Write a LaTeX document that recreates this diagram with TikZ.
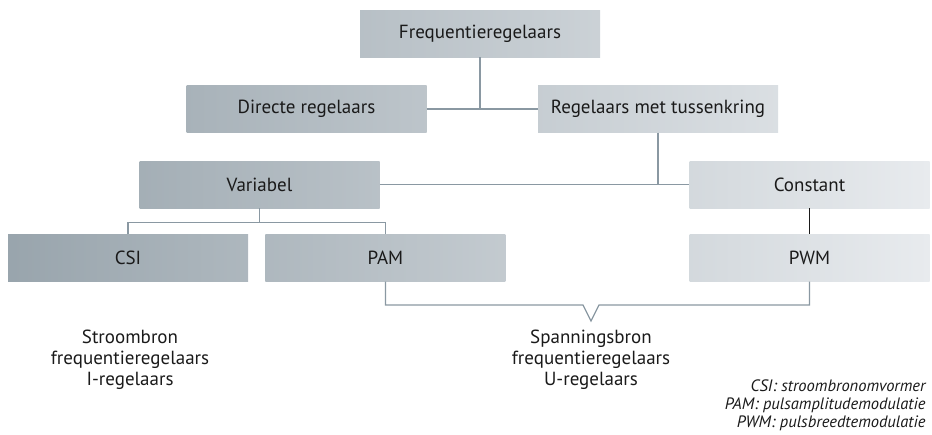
\documentclass[tikz,border=0pt]{standalone}
\usepackage{fontspec}
\setmainfont{PT Sans}
\usepackage{tikz}
\usetikzlibrary{calc,positioning}
\definecolor{fcdark}{RGB}{152,164,172}
\definecolor{fclight}{RGB}{232,235,238}
\definecolor{fcline}{RGB}{138,152,162}
\definecolor{fctext}{RGB}{26,26,26}

\begin{document}
\begin{tikzpicture}[x=1pt,y=-1pt,font=\fontsize{19}{21}\selectfont,text=fctext,
    every node/.style={align=center},
    fcbox/.style 2 args={minimum width=240pt,minimum height=47pt,inner sep=0pt,
      left color=fclight!#1!fcdark,right color=fclight!#2!fcdark},
    conn/.style={draw=fcline,line width=1.3pt}]
        \useasboundingbox (0,0) rectangle (932,434);
        \node[fcbox={39}{64}] (freq) at (480,33.5) {Frequentieregelaars};
        \node[fcbox={20}{46}] (dir) at (306.5,109) {Directe regelaars};
        \node[fcbox={58}{83}] (reg) at (658,109) {Regelaars met tussenkring};
        \node[fcbox={15}{41}] (var) at (259.5,184.5) {Variabel};
        \node[fcbox={74}{100}] (const) at (809.5,184.5) {Constant};
        \node[fcbox={1}{27}] (csi) at (128,258) {CSI};
        \node[fcbox={28}{54},right=17pt of csi] (pam) {PAM};
        \node[fcbox={74}{100},below=26pt of const] (pwm) {PWM};
        \draw[conn] (dir.east)--(reg.west);
        \draw[conn] (freq.south)--(freq.south |- dir.east);
        \draw[conn] (var.east)--(const.west);
        \draw[conn] (reg.south)--(reg.south |- var.east);
        \coordinate (varfork) at ($(var.south)+(0,14)$);
        \draw[conn] (var.south)--(varfork);
        \draw[conn] (csi.north) |- (varfork) -| (pam.north);
        \draw[line width=1.3pt,fctext] (const.south)--(pwm.north);
        % bracket with notch pointing down
        \coordinate (notch) at (591,321);
        \draw[conn,line join=miter] (pam.south) |- ($(notch)+(-8,-16)$) -- (notch)
          -- ($(notch)+(8,-16)$) -| (pwm.south);
        \node (isrc) at (130,360) {Stroombron\\frequentieregelaars\\I-regelaars};
        \node (usrc) at (notch |- isrc) {Spanningsbron\\frequentieregelaars\\U-regelaars};
        \node[anchor=south east,align=right,font=\fontsize{16.5}{18}\selectfont\itshape] (legend) at (929,434)
          {CSI: stroombronomvormer\\PAM: pulsamplitudemodulatie\\PWM: pulsbreedtemodulatie};
      \end{tikzpicture}
\end{document}
